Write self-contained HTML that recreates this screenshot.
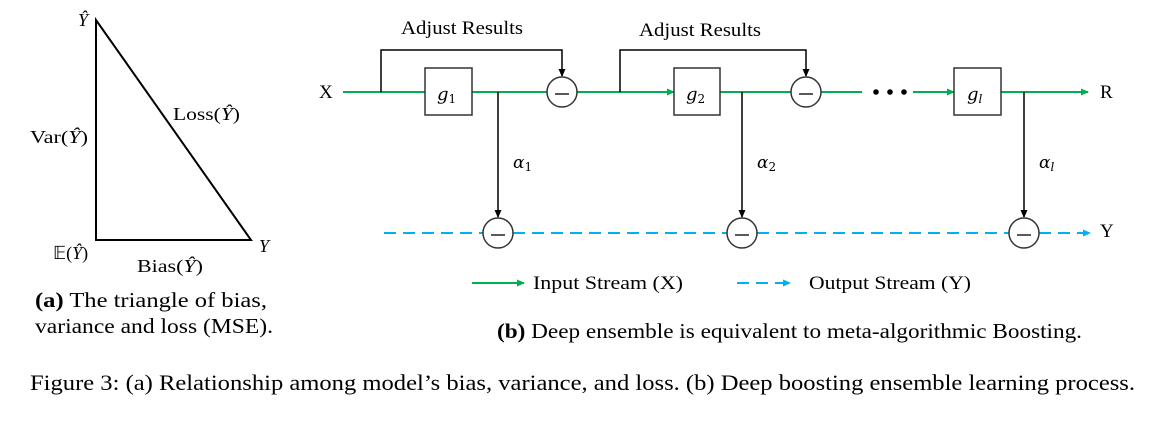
<!DOCTYPE html>
<html><head><meta charset="utf-8"><style>
html,body{margin:0;padding:0;background:#fff;width:1166px;height:423px;overflow:hidden}
svg text{font-family:"Liberation Serif",serif;fill:#000}
.m{font-family:"DejaVu Serif","Liberation Serif",serif;font-style:italic}
</style></head><body>
<svg width="1166" height="423" viewBox="0 0 1166 423" xmlns="http://www.w3.org/2000/svg">
<defs>
<marker id="ak" markerWidth="8" markerHeight="8" refX="7" refY="4" orient="auto" markerUnits="userSpaceOnUse"><path d="M0,0.5 L8,4 L0,7.5z" fill="#000"/></marker>
<marker id="ag" markerWidth="8" markerHeight="8" refX="7" refY="4" orient="auto" markerUnits="userSpaceOnUse"><path d="M0,0.5 L8,4 L0,7.5z" fill="#00b050"/></marker>
<marker id="ab" markerWidth="8" markerHeight="8" refX="7" refY="4" orient="auto" markerUnits="userSpaceOnUse"><path d="M0,0.5 L8,4 L0,7.5z" fill="#00b0f0"/></marker>
</defs>
<!-- triangle -->
<path d="M96,20 L96,240 L251,240 Z" fill="none" stroke="#000" stroke-width="2"/>
<text x="78" y="26" font-size="18" font-style="italic">Ŷ</text>
<text x="30" y="143" font-size="18" textLength="58" lengthAdjust="spacingAndGlyphs">Var(<tspan font-style="italic">Ŷ</tspan>)</text>
<text x="173" y="120" font-size="18" textLength="67" lengthAdjust="spacingAndGlyphs">Loss(<tspan font-style="italic">Ŷ</tspan>)</text>
<text x="53" y="259" font-size="18">𝔼(<tspan font-style="italic">Ŷ</tspan>)</text>
<text x="137" y="272" font-size="18" textLength="66" lengthAdjust="spacingAndGlyphs">Bias(<tspan font-style="italic">Ŷ</tspan>)</text>
<text x="259" y="252" font-size="18" font-style="italic">Y</text>
<text x="35" y="307" font-size="21" textLength="232" lengthAdjust="spacingAndGlyphs"><tspan font-weight="bold">(a)</tspan> The triangle of bias,</text>
<text x="35" y="333" font-size="21" textLength="238" lengthAdjust="spacingAndGlyphs">variance and loss (MSE).</text>

<!-- diagram -->
<text x="319" y="98" font-size="19">X</text>
<text x="1100" y="98" font-size="19">R</text>
<text x="1100" y="237" font-size="19">Y</text>
<text x="401" y="34" font-size="19" textLength="122" lengthAdjust="spacingAndGlyphs">Adjust Results</text>
<text x="639" y="36" font-size="19" textLength="122" lengthAdjust="spacingAndGlyphs">Adjust Results</text>
<g stroke="#00b050" stroke-width="2" fill="none">
<line x1="343" y1="92" x2="425" y2="92"/>
<line x1="472" y1="92" x2="547" y2="92"/>
<line x1="577" y1="92" x2="674" y2="92" marker-end="url(#ag)"/>
<line x1="720" y1="92" x2="791" y2="92"/>
<line x1="821" y1="92" x2="862" y2="92"/>
<line x1="913" y1="92" x2="954" y2="92" marker-end="url(#ag)"/>
<line x1="1001" y1="92" x2="1088" y2="92" marker-end="url(#ag)"/>
</g>
<circle cx="876" cy="92" r="2.8" fill="#000"/><circle cx="890" cy="92" r="2.8" fill="#000"/><circle cx="904" cy="92" r="2.8" fill="#000"/>
<g stroke="#00b0f0" stroke-width="2" fill="none" stroke-dasharray="12,7">
<line x1="384" y1="233" x2="483" y2="233"/>
<line x1="513" y1="233" x2="727" y2="233"/>
<line x1="757" y1="233" x2="1009" y2="233"/>
</g>
<line x1="1039" y1="233" x2="1090" y2="233" stroke="#00b0f0" stroke-width="2" stroke-dasharray="12,7" marker-end="url(#ab)"/>
<g stroke="#000" stroke-width="1.5" fill="none">
<polyline points="381,92 381,50 562,50 562,76" marker-end="url(#ak)"/>
<polyline points="620,92 620,50 806,50 806,76" marker-end="url(#ak)"/>
<line x1="498" y1="92" x2="498" y2="217" marker-end="url(#ak)"/>
<line x1="742" y1="92" x2="742" y2="217" marker-end="url(#ak)"/>
<line x1="1024" y1="92" x2="1024" y2="217" marker-end="url(#ak)"/>
</g>
<g stroke="#333" stroke-width="1.5" fill="#fff">
<rect x="425" y="68" width="47" height="47"/>
<rect x="674" y="68" width="46" height="47"/>
<rect x="954" y="68" width="47" height="47"/>
<circle cx="562" cy="92" r="15"/><circle cx="806" cy="92" r="15"/>
<circle cx="498" cy="233" r="15"/><circle cx="742" cy="233" r="15"/><circle cx="1024" cy="233" r="15"/>
</g>
<g stroke="#000" stroke-width="1.3">
<line x1="555" y1="94" x2="569" y2="94"/><line x1="799" y1="94" x2="813" y2="94"/>
<line x1="491" y1="235" x2="505" y2="235"/><line x1="735" y1="235" x2="749" y2="235"/><line x1="1017" y1="235" x2="1031" y2="235"/>
</g>
<text x="437" y="100" font-size="18" class="m">g<tspan font-size="12" dy="3" font-style="normal">1</tspan></text>
<text x="686" y="100" font-size="18" class="m">g<tspan font-size="12" dy="3" font-style="normal">2</tspan></text>
<text x="967" y="100" font-size="18" class="m">g<tspan font-size="12" dy="3">l</tspan></text>
<text x="513" y="168" font-size="17" class="m">α<tspan font-size="12" dy="3" font-style="normal">1</tspan></text>
<text x="757" y="168" font-size="17" class="m">α<tspan font-size="12" dy="3" font-style="normal">2</tspan></text>
<text x="1039" y="168" font-size="17" class="m">α<tspan font-size="12" dy="3">l</tspan></text>

<line x1="472" y1="283" x2="524" y2="283" stroke="#00b050" stroke-width="2" marker-end="url(#ag)"/>
<text x="533" y="289" font-size="19" textLength="150" lengthAdjust="spacingAndGlyphs">Input Stream  (X)</text>
<line x1="737" y1="283" x2="790" y2="283" stroke="#00b0f0" stroke-width="2" stroke-dasharray="12,7" marker-end="url(#ab)"/>
<text x="809" y="289" font-size="19" textLength="162" lengthAdjust="spacingAndGlyphs">Output Stream  (Y)</text>
<text x="497" y="338" font-size="21" textLength="585" lengthAdjust="spacingAndGlyphs"><tspan font-weight="bold">(b)</tspan> Deep ensemble is equivalent to meta-algorithmic Boosting.</text>

<text x="30" y="390" font-size="22" textLength="1105" lengthAdjust="spacingAndGlyphs">Figure 3: (a) Relationship among model’s bias, variance, and loss. (b) Deep boosting ensemble learning process.</text>
</svg>
</body></html>
